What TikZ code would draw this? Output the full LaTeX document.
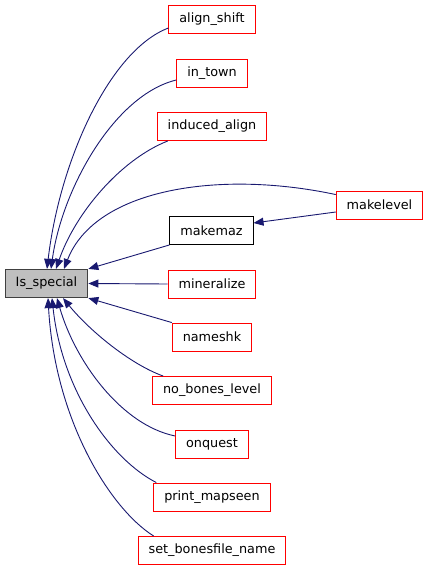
\documentclass[tikz,border=0pt]{standalone}
\usepackage{fontspec}
\setmainfont{DejaVu Sans}
\usepackage{tikz}
\usetikzlibrary{arrows.meta,positioning,calc}
\definecolor{callEdge}{HTML}{191970}
\definecolor{refFrame}{HTML}{FF0000}
\definecolor{focusFill}{HTML}{BFBFBF}

\begin{document}
\begin{tikzpicture}[x=1pt,y=-1pt,
    fn/.style={draw=refFrame,line width=0.9pt,rectangle,minimum height=28pt,inner xsep=10.5pt,
      font=\fontsize{12.8}{15}\selectfont},
    focus/.style={fn,draw=black!75,fill=focusFill,line width=1.2pt},
    plain/.style={fn,draw=black},
    call/.style={callEdge,line width=0.9pt,{Triangle[length=10pt,width=8pt]}-}]
  \useasboundingbox (0,0) rectangle (429,571);
  \node[focus] (special) at (46.5,283.5) {Is\_special};
  \foreach \nm/\lab/\yy in {alignshift/align\_shift/19,intown/in\_town/73,
      inducedalign/induced\_align/126.5,mineralize/mineralize/284,nameshk/nameshk/337,
      nobones/no\_bones\_level/390.5,onquest/onquest/444,printmapseen/print\_mapseen/497,
      setbones/set\_bonesfile\_name/550.5} {
    \node[fn] (\nm) at (212,\yy) {\lab};
  }
  \node[plain] (makemaz) at (211.5,230.5) {makemaz};
  \node[fn] (makelevel) at (379.5,205) {makelevel};
  % callers above
  \draw[call] ([xshift=0.5pt]special.north) .. controls +(13,-110) and +(-58,22) .. ([yshift=-9pt]alignshift.west);
  \draw[call] ([xshift=4.5pt]special.north) .. controls +(11,-80) and +(-62,15) .. ([yshift=-7pt]intown.west);
  \draw[call] ([xshift=9.5pt]special.north) .. controls +(19,-55) and +(-48,19) .. ([xshift=11pt]inducedalign.south west);
  \draw[call] ([xshift=17.5pt]special.north) .. controls +(31,-80) and +(-117,-25) .. ([yshift=-4pt]makelevel.north west);
  \draw[call] (special.north east) -- (makemaz.south west);
  \draw[call] ([yshift=7.5pt]makemaz.east) -- ([yshift=-7pt]makelevel.west);
  \draw[call] (special.east) -- (mineralize.west);
  % callers below
  \draw[call] (special.south east) -- (nameshk.north west);
  \draw[call] ([xshift=16.5pt]special.south) .. controls +(27,33) and +(-33,-12) .. ([xshift=11pt]nobones.north west);
  \draw[call] ([xshift=10.5pt]special.south) .. controls +(18,63) and +(-54,-11) .. ([yshift=8pt]onquest.west);
  \draw[call] ([xshift=5.5pt]special.south) .. controls +(10,93) and +(-45,-23) .. ([xshift=3pt]printmapseen.north west);
  \draw[call] ([xshift=1.5pt]special.south) .. controls +(7,123) and +(-43,-27) .. ([xshift=16pt]setbones.north west);
\end{tikzpicture}
\end{document}
